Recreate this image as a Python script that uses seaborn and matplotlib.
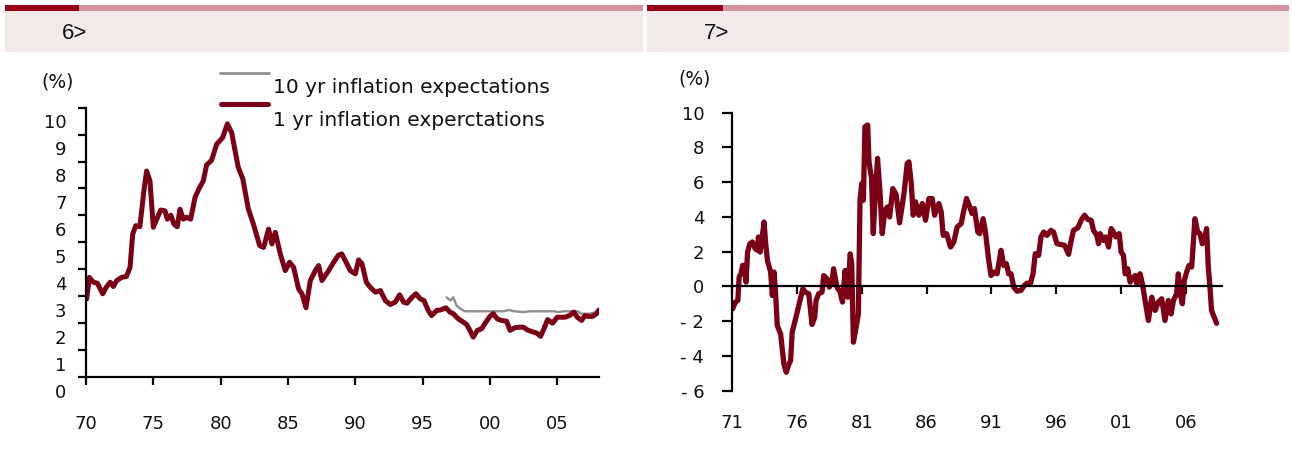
import matplotlib
matplotlib.use("Agg")
import matplotlib.pyplot as plt
import matplotlib.transforms as mtransforms
from matplotlib.patches import Rectangle
from matplotlib.lines import Line2D
import pandas as pd
import seaborn as sns

# ---------------- data ----------------
# Chart 6: 1 yr inflation expectations (%)
years_1yr = [1970.05, 1970.25, 1970.55, 1970.85, 1971.24, 1971.5, 1971.8, 1972.03, 1972.28, 1972.65,
             1973.0, 1973.27, 1973.47, 1973.7, 1974.0, 1974.3, 1974.5, 1974.75, 1975.0, 1975.25,
             1975.55, 1975.87, 1976.04, 1976.3, 1976.53, 1976.78, 1976.98, 1977.23, 1977.48, 1977.77,
             1978.1, 1978.34, 1978.71, 1978.96, 1979.33, 1979.7, 1980.15, 1980.5, 1980.82, 1981.3,
             1981.65, 1982.05, 1982.45, 1982.9, 1983.19, 1983.56, 1983.81, 1984.06, 1984.43, 1984.8,
             1985.12, 1985.42, 1985.79, 1986.04, 1986.34, 1986.66, 1987.03, 1987.28, 1987.52, 1988.02,
             1988.39, 1988.76, 1989.0, 1989.38, 1989.63, 1990.0, 1990.25, 1990.5, 1990.82, 1991.11,
             1991.49, 1991.86, 1992.23, 1992.6, 1992.97, 1993.29, 1993.59, 1993.84, 1994.21, 1994.5,
             1994.83, 1995.1, 1995.42, 1995.67, 1996.04, 1996.34, 1996.73, 1997.03, 1997.28, 1997.65,
             1998.02, 1998.27, 1998.51, 1998.76, 1999.06, 1999.38, 1999.7, 2000.0, 2000.25, 2000.54,
             2000.86, 2001.24, 2001.49, 2001.86, 2002.18, 2002.48, 2002.77, 2003.09, 2003.47, 2003.76,
             2004.01, 2004.28, 2004.65, 2005.0, 2005.57, 2005.9, 2006.24, 2006.49, 2006.81, 2007.05,
             2007.3, 2007.62, 2007.92, 2008.1]
values_1yr = [3.40, 4.20, 4.02, 3.98, 3.59, 3.83, 4.02, 3.86, 4.08, 4.20,
              4.23, 4.57, 5.81, 6.12, 6.08, 7.41, 8.15, 7.78, 6.06, 6.36,
              6.70, 6.67, 6.36, 6.51, 6.18, 6.08, 6.73, 6.36, 6.43, 6.36,
              7.17, 7.44, 7.78, 8.38, 8.55, 9.14, 9.39, 9.90, 9.57, 8.30,
              7.85, 6.75, 6.15, 5.38, 5.31, 5.99, 5.44, 5.87, 5.07, 4.45,
              4.76, 4.57, 3.77, 3.59, 3.07, 4.08, 4.45, 4.64, 4.08, 4.45,
              4.76, 5.03, 5.07, 4.70, 4.45, 4.33, 4.85, 4.70, 4.02, 3.83,
              3.65, 3.71, 3.34, 3.19, 3.28, 3.55, 3.28, 3.24, 3.46, 3.59,
              3.40, 3.34, 2.97, 2.78, 2.97, 2.99, 3.07, 2.91, 2.85, 2.66,
              2.54, 2.45, 2.23, 1.98, 2.23, 2.29, 2.54, 2.75, 2.85, 2.66,
              2.60, 2.57, 2.23, 2.33, 2.35, 2.35, 2.25, 2.19, 2.13, 2.01,
              2.29, 2.63, 2.50, 2.72, 2.72, 2.78, 2.91, 2.72, 2.60, 2.78,
              2.75, 2.75, 2.85, 2.99]

# Chart 6: 10 yr inflation expectations (%)
years_10yr = [1996.78, 1997.08, 1997.28, 1997.52, 1997.82, 1998.14, 1998.5, 1999.0, 1999.5, 2000.0,
              2000.5, 2001.0, 2001.4, 2001.8, 2002.5, 2003.0, 2003.5, 2004.0, 2004.8, 2005.0,
              2005.5, 2006.0, 2006.5, 2006.8, 2007.3, 2007.67, 2008.0]
values_10yr = [3.46, 3.34, 3.46, 3.15, 3.03, 2.94, 2.94, 2.94, 2.94, 2.94,
               2.94, 2.94, 2.99, 2.94, 2.91, 2.94, 2.94, 2.94, 2.94, 2.91,
               2.94, 2.94, 2.94, 2.85, 2.85, 2.88, 2.94]

# Chart 7 series (%)
years_7 = [1971.05, 1971.26, 1971.45, 1971.55, 1971.69, 1971.82, 1971.94, 1972.08, 1972.2, 1972.38,
           1972.58, 1972.79, 1972.96, 1973.04, 1973.17, 1973.35, 1973.47, 1973.6, 1973.73, 1973.98,
           1974.11, 1974.24, 1974.37, 1974.49, 1974.75, 1975.0, 1975.18, 1975.39, 1975.52, 1975.64,
           1975.9, 1976.15, 1976.46, 1976.66, 1976.92, 1977.17, 1977.38, 1977.48, 1977.68, 1977.94,
           1978.07, 1978.32, 1978.5, 1978.7, 1978.83, 1979.09, 1979.34, 1979.52, 1979.72, 1979.93,
           1980.11, 1980.23, 1980.36, 1980.57, 1980.74, 1980.87, 1981.0, 1981.13, 1981.25, 1981.46,
           1981.56, 1981.76, 1981.89, 1982.02, 1982.22, 1982.4, 1982.58, 1982.79, 1982.99, 1983.15,
           1983.4, 1983.65, 1983.92, 1984.26, 1984.51, 1984.64, 1984.82, 1984.97, 1985.15, 1985.41,
           1985.67, 1985.92, 1986.18, 1986.44, 1986.62, 1986.95, 1987.13, 1987.28, 1987.54, 1987.85,
           1988.1, 1988.36, 1988.67, 1988.82, 1989.08, 1989.33, 1989.51, 1989.69, 1989.95, 1990.1,
           1990.36, 1990.54, 1990.79, 1990.97, 1991.23, 1991.44, 1991.74, 1991.95, 1992.15, 1992.33,
           1992.51, 1992.72, 1992.97, 1993.28, 1993.54, 1993.74, 1994.0, 1994.21, 1994.38, 1994.64,
           1994.82, 1995.03, 1995.28, 1995.59, 1995.79, 1996.05, 1996.31, 1996.64, 1996.95, 1997.15,
           1997.33, 1997.67, 1997.92, 1998.18, 1998.44, 1998.69, 1998.87, 1999.13, 1999.26, 1999.38,
           1999.64, 1999.82, 2000.03, 2000.23, 2000.41, 2000.59, 2000.85, 2001.0, 2001.18, 2001.31,
           2001.51, 2001.69, 2001.87, 2002.08, 2002.21, 2002.46, 2002.64, 2002.85, 2003.1, 2003.36,
           2003.62, 2003.87, 2004.13, 2004.38, 2004.64, 2004.85, 2005.03, 2005.28, 2005.41, 2005.54,
           2005.72, 2005.87, 2006.05, 2006.23, 2006.44, 2006.56, 2006.69, 2006.9, 2007.08, 2007.26,
           2007.41, 2007.59, 2007.72, 2007.85, 2007.97, 2008.18, 2008.36]
values_7 = [-1.29, -0.90, -0.81, 0.54, 0.73, 1.21, 1.21, 0.25, 1.98, 2.46,
            2.56, 2.17, 2.08, 2.85, 1.98, 2.94, 3.71, 2.46, 1.50, 0.83,
            -0.52, 0.83, -0.52, -2.25, -2.73, -4.46, -4.94, -4.46, -4.27, -2.63,
            -1.87, -1.10, -0.13, -0.33, -0.42, -2.19, -1.77, -0.81, -0.42, -0.33,
            0.63, 0.44, -0.04, 0.25, 1.02, -0.04, -0.33, -0.90, 0.92, -0.62,
            1.88, 1.31, -3.21, -2.35, -1.58, 4.96, 5.92, 4.96, 9.19, 9.29,
            7.17, 6.21, 3.04, 4.96, 7.37, 5.54, 3.04, 4.38, 4.58, 4.00,
            5.63, 5.30, 3.66, 5.35, 7.08, 7.17, 5.92, 4.10, 4.87, 4.10,
            4.77, 3.81, 5.06, 5.06, 4.10, 4.77, 4.29, 2.94, 3.04, 2.27,
            2.56, 3.42, 3.62, 4.19, 5.06, 4.58, 4.19, 4.48, 3.13, 3.04,
            3.90, 3.13, 1.50, 0.63, 0.83, 0.73, 2.08, 1.21, 1.31, 0.73,
            0.73, -0.04, -0.27, -0.23, 0.06, 0.19, 0.15, 0.73, 1.88, 1.79,
            2.85, 3.13, 2.94, 3.23, 3.13, 2.46, 2.42, 2.37, 1.85, 2.65,
            3.23, 3.38, 3.81, 4.10, 3.85, 3.81, 3.23, 2.94, 2.46, 3.04,
            2.65, 2.85, 2.27, 3.33, 3.13, 2.85, 3.04, 1.98, 1.79, 0.73,
            1.02, 0.25, 0.44, 0.63, 0.15, 0.73, 0.15, -0.81, -1.96, -0.62,
            -1.38, -0.90, -0.71, -1.96, -0.81, -1.58, -0.81, -0.42, 0.73, -0.33,
            -1.00, 0.35, 0.83, 1.21, 1.12, 2.46, 3.90, 3.13, 3.04, 2.46,
            2.65, 3.33, 1.12, -0.04, -1.38, -1.77, -2.12]

# tick labels
ticks6_x = [1970, 1975, 1980, 1985, 1990, 1995, 2000, 2005]
labels6_x = ["70", "75", "80", "85", "90", "95", "00", "05"]
labels6_y = [str(k) for k in range(11)]
ticks7_x = [1971, 1976, 1981, 1986, 1991, 1996, 2001, 2006]
labels7_x = ["71", "76", "81", "86", "91", "96", "01", "06"]
ticks7_y = [-6, -4, -2, 0, 2, 4, 6, 8, 10]
labels7_y = ["- 6", "- 4", "- 2", "0", "2", "4", "6", "8", "10"]

legend_labels = ["10 yr inflation expectations", "1 yr inflation experctations"]
titles = ["6>", "7>"]

# ---------------- style ----------------
sns.set_style("ticks")
plt.rcParams['font.family'] = ['DejaVu Sans']

RED = '#7B0016'
GRAY = '#8E8E8E'
TXT = '#111111'
W, H = 1292, 472
fig = plt.figure(figsize=(W / 100, H / 100), dpi=100)


def fx(x):
    return x / W


def fy(y):
    return 1 - y / H


# header bands
for (x0, x1, xd), title, tx in [((5, 643, 79), titles[0], 62), ((647, 1289, 723), titles[1], 704)]:
    fig.add_artist(Rectangle((fx(x0), fy(52)), (x1 - x0) / W, (52 - 10.7) / H,
                             transform=fig.transFigure, facecolor='#F4E9E9', edgecolor='none'))
    fig.add_artist(Rectangle((fx(x0), fy(10.7)), (x1 - x0) / W, 5.7 / H,
                             transform=fig.transFigure, facecolor='#D4949F', edgecolor='none'))
    fig.add_artist(Rectangle((fx(x0), fy(10.7)), (xd - x0) / W, 5.7 / H,
                             transform=fig.transFigure, facecolor='#960018', edgecolor='none'))
    fig.text(fx(tx), fy(33.5), title, fontsize=16, va='center', ha='left', color=TXT,
             family=['Liberation Sans', 'DejaVu Sans'])

# ---------------- chart 6 ----------------
ax1 = fig.add_axes([86 / W, 1 - 377 / H, (599 - 86) / W, (377 - 107.7) / H])
df10 = pd.DataFrame({'year': years_10yr, 'value': values_10yr})
df1 = pd.DataFrame({'year': years_1yr, 'value': values_1yr})
sns.lineplot(data=df10, x='year', y='value', ax=ax1, color=GRAY, linewidth=1.7, estimator=None)
sns.lineplot(data=df1, x='year', y='value', ax=ax1, color=RED, linewidth=3.6, estimator=None)
ax1.set_xlim(1970, 2008.1)
ax1.set_ylim(0.5, 10.5)
ax1.set_xticks(ticks6_x)
ax1.set_xticklabels(labels6_x)
ax1.set_yticks([k + 0.5 for k in range(11)])
ax1.set_yticklabels(labels6_y)
ax1.set_xlabel('')
ax1.set_ylabel('')
for s in ['top', 'right']:
    ax1.spines[s].set_visible(False)
for s in ['left', 'bottom']:
    ax1.spines[s].set_linewidth(1.6)
    ax1.spines[s].set_color('black')
ax1.tick_params(axis='y', direction='out', length=6, width=1.6, labelsize=13, pad=8, colors='black',
                labelcolor=TXT)
ax1.tick_params(axis='x', direction='out', length=6, width=1.6, labelsize=13, pad=21.5, colors='black',
                labelcolor=TXT)
shift = mtransforms.ScaledTranslation(0, -13.5 / 100, fig.dpi_scale_trans)
for lab in ax1.get_yticklabels():
    lab.set_transform(lab.get_transform() + shift)
ax1.patch.set_alpha(0)

fig.text(fx(58), fy(82), '(%)', fontsize=13.5, ha='center', va='center', color=TXT)

# legend (drawn manually to match layout)
fig.add_artist(Line2D([fx(220), fx(269)], [fy(72.7), fy(72.7)], transform=fig.transFigure,
                      color=GRAY, linewidth=2.0))
fig.add_artist(Line2D([fx(221), fx(268)], [fy(104.3), fy(104.3)], transform=fig.transFigure,
                      color=RED, linewidth=3.6, solid_capstyle='round'))
fig.text(fx(273), fy(87), legend_labels[0], fontsize=14.5, ha='left', va='center', color=TXT)
fig.text(fx(273), fy(120), legend_labels[1], fontsize=14.5, ha='left', va='center', color=TXT)

# ---------------- chart 7 ----------------
ax2 = fig.add_axes([732 / W, 1 - 390.7 / H, (1222.3 - 732) / W, (390.7 - 112.7) / H])
df7 = pd.DataFrame({'year': years_7, 'value': values_7})
sns.lineplot(data=df7, x='year', y='value', ax=ax2, color=RED, linewidth=3.8, estimator=None)
ax2.set_xlim(1971, 2008.8)
ax2.set_ylim(-6, 10)
ax2.set_yticks(ticks7_y)
ax2.set_yticklabels(labels7_y)
ax2.set_xticks(ticks7_x)
ax2.set_xlabel('')
ax2.set_ylabel('')
for s in ['top', 'right']:
    ax2.spines[s].set_visible(False)
ax2.spines['bottom'].set_position(('data', 0))
for s in ['left', 'bottom']:
    ax2.spines[s].set_linewidth(1.6)
    ax2.spines[s].set_color('black')
ax2.tick_params(axis='y', direction='out', length=7, width=1.6, labelsize=13, pad=13, colors='black',
                labelcolor=TXT)
ax2.tick_params(axis='x', direction='out', length=6, width=1.6, labelbottom=False, colors='black')
sec = ax2.secondary_xaxis('bottom')
sec.set_xticks(ticks7_x)
sec.set_xticklabels(labels7_x)
sec.tick_params(axis='x', length=0, labelsize=13, pad=17, colors=TXT)
sec.spines['bottom'].set_visible(False)
ax2.patch.set_alpha(0)

fig.text(fx(695), fy(79), '(%)', fontsize=13.5, ha='center', va='center', color=TXT)

fig.savefig('out.png', dpi=100, facecolor='white')
